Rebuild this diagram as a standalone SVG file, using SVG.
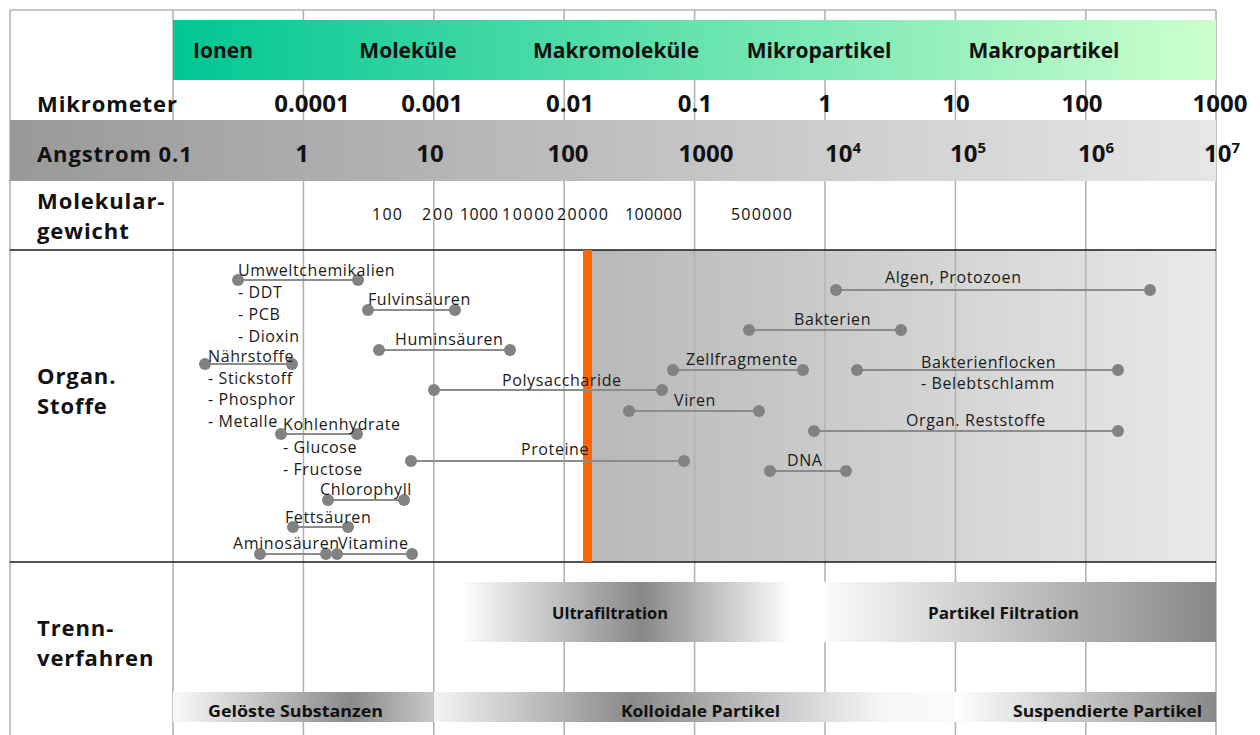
<svg xmlns="http://www.w3.org/2000/svg" width="1260" height="735" viewBox="0 0 1260 735">
<defs>
<linearGradient id="gGreen" x1="0" y1="0" x2="1" y2="0"><stop offset="0" stop-color="#00c693"/><stop offset="1" stop-color="#ccffcc"/></linearGradient>
<linearGradient id="gAng" x1="0" y1="0" x2="1" y2="0"><stop offset="0" stop-color="#999999"/><stop offset="1" stop-color="#e6e6e6"/></linearGradient>
<linearGradient id="gOrg" x1="0" y1="0" x2="1" y2="0"><stop offset="0" stop-color="#b8b8b8"/><stop offset="1" stop-color="#e9e9e9"/></linearGradient>
<linearGradient id="gUF" x1="0" y1="0" x2="1" y2="0"><stop offset="0" stop-color="#ffffff"/><stop offset="0.5" stop-color="#888888"/><stop offset="0.91" stop-color="#ffffff"/><stop offset="1" stop-color="#ffffff"/></linearGradient>
<linearGradient id="gPF" x1="0" y1="0" x2="1" y2="0"><stop offset="0" stop-color="#fafafa"/><stop offset="1" stop-color="#878787"/></linearGradient>
<linearGradient id="gGS" x1="0" y1="0" x2="1" y2="0"><stop offset="0" stop-color="#fafafa"/><stop offset="0.68" stop-color="#8a8a8a"/><stop offset="1" stop-color="#c8c8c8"/></linearGradient>
<linearGradient id="gKP" x1="0" y1="0" x2="1" y2="0"><stop offset="0" stop-color="#f4f4f4"/><stop offset="0.38" stop-color="#8a8a8a"/><stop offset="0.86" stop-color="#f6f6f6"/><stop offset="1" stop-color="#fbfbfb"/></linearGradient>
<linearGradient id="gSP" x1="0" y1="0" x2="1" y2="0"><stop offset="0" stop-color="#ffffff"/><stop offset="1" stop-color="#888888"/></linearGradient>
<style>
text{font-family:"Open Sans","Liberation Sans",sans-serif;fill:#111}
.h{font-weight:700;font-size:22px;letter-spacing:0.9px}
.g{font-weight:700;font-size:21px;text-anchor:middle}
.v{font-weight:700;font-size:24px}
.mw{font-size:16px}
.lb{font-size:16px;letter-spacing:0.6px;fill:#1a1a1a}
.tb{font-weight:700;font-size:16px}
.grid{stroke:#b4b4b4;stroke-width:1.6;fill:none}
.hl{stroke:#1a1a1a;stroke-width:1.6}
.rng{stroke:#8c8c8c;stroke-width:2}
.dot{fill:#828282}
</style>
</defs>
<rect width="1260" height="735" fill="#ffffff"/>

<g id="background">
<rect x="592" y="250" width="624" height="312" fill="url(#gOrg)"/>
</g>

<g id="grid">
<line class="grid" x1="10" y1="10" x2="1216" y2="10"/>
<line class="grid" x1="10" y1="10" x2="10" y2="735"/>
<line class="grid" x1="173" y1="10" x2="173" y2="735"/>
<line class="grid" x1="303.4" y1="10" x2="303.4" y2="735"/>
<line class="grid" x1="433.8" y1="10" x2="433.8" y2="735"/>
<line class="grid" x1="564.2" y1="10" x2="564.2" y2="735"/>
<line class="grid" x1="694.6" y1="10" x2="694.6" y2="735"/>
<line class="grid" x1="825" y1="10" x2="825" y2="735"/>
<line class="grid" x1="955.4" y1="10" x2="955.4" y2="735"/>
<line class="grid" x1="1085.8" y1="10" x2="1085.8" y2="735"/>
<line class="grid" x1="1216" y1="10" x2="1216" y2="735" stroke-width="2.5"/>
<line class="hl" x1="10" y1="250" x2="1216" y2="250"/>
<line class="hl" x1="10" y1="562" x2="1216" y2="562"/>
</g>

<g id="bands">
<rect x="173" y="20" width="1043" height="60" fill="url(#gGreen)"/>
<rect x="10" y="120" width="1206" height="61" fill="url(#gAng)"/>
<rect x="460" y="582" width="365" height="60" fill="url(#gUF)"/>
<rect x="825" y="582" width="391" height="60" fill="url(#gPF)"/>
<rect x="173" y="692" width="261" height="30" fill="url(#gGS)"/>
<rect x="434" y="692" width="521" height="30" fill="url(#gKP)"/>
<rect x="955" y="692" width="261" height="30" fill="url(#gSP)"/>
<rect x="583" y="250" width="9" height="312" fill="#ff6600"/>
</g>

<g id="headers">
<text class="g" x="223" y="58">Ionen</text>
<text class="g" x="408" y="58">Moleküle</text>
<text class="g" x="616" y="58">Makromoleküle</text>
<text class="g" x="819" y="58">Mikropartikel</text>
<text class="g" x="1044" y="58">Makropartikel</text>

<text class="h" x="37" y="112">Mikrometer</text>
<text class="h" x="37" y="162">Angstrom 0.1</text>
<text class="h" x="37" y="209">Molekular-</text>
<text class="h" x="37" y="239">gewicht</text>
<text class="h" x="37" y="384">Organ.</text>
<text class="h" x="37" y="414">Stoffe</text>
<text class="h" x="37" y="636">Trenn-</text>
<text class="h" x="37" y="666">verfahren</text>
</g>

<g id="scale-mikrometer" text-anchor="middle">
<text class="v" x="312" y="112">0.0001</text>
<text class="v" x="432" y="112">0.001</text>
<text class="v" x="570" y="112">0.01</text>
<text class="v" x="695" y="112">0.1</text>
<text class="v" x="825" y="112">1</text>
<text class="v" x="956" y="112">10</text>
<text class="v" x="1082" y="112">100</text>
<text class="v" x="1220" y="112">1000</text>
</g>

<g id="scale-angstrom" text-anchor="middle">
<text class="v" x="302" y="162">1</text>
<text class="v" x="430" y="162">10</text>
<text class="v" x="568" y="162">100</text>
<text class="v" x="706" y="162">1000</text>
<text class="v" x="843" y="162">10<tspan font-size="15" dy="-9">4</tspan></text>
<text class="v" x="968" y="162">10<tspan font-size="15" dy="-9">5</tspan></text>
<text class="v" x="1096" y="162">10<tspan font-size="15" dy="-9">6</tspan></text>
<text class="v" x="1222" y="162">10<tspan font-size="15" dy="-9">7</tspan></text>
</g>

<g id="scale-molekulargewicht">
<text class="mw" x="372" y="220" textLength="30">100</text>
<text class="mw" x="422" y="220" textLength="31">200</text>
<text class="mw" x="460" y="220" textLength="38">1000</text>
<text class="mw" x="502" y="220" textLength="52">10000</text>
<text class="mw" x="557" y="220" textLength="51">20000</text>
<text class="mw" x="625" y="220" textLength="57">100000</text>
<text class="mw" x="731" y="220" textLength="61">500000</text>
</g>

<g id="trennverfahren">
<text class="tb" x="552" y="619" textLength="116" lengthAdjust="spacingAndGlyphs">Ultrafiltration</text>
<text class="tb" x="928" y="619" textLength="151" lengthAdjust="spacingAndGlyphs">Partikel Filtration</text>
<text class="tb" x="208" y="717" textLength="175" lengthAdjust="spacingAndGlyphs">Gelöste Substanzen</text>
<text class="tb" x="621" y="717" textLength="159" lengthAdjust="spacingAndGlyphs">Kolloidale Partikel</text>
<text class="tb" x="1013" y="717" textLength="189" lengthAdjust="spacingAndGlyphs">Suspendierte Partikel</text>
</g>

<g id="n-umweltchemikalien">
<line class="rng" x1="238" y1="280" x2="358" y2="280"/>
<circle class="dot" cx="238" cy="280" r="6"/><circle class="dot" cx="358" cy="280" r="6"/>
<text class="lb" x="238" y="276">Umweltchemikalien</text>
<text class="lb" x="238" y="298">- DDT</text>
<text class="lb" x="238" y="320">- PCB</text>
<text class="lb" x="238" y="342">- Dioxin</text>
</g>
<g id="n-fulvinsaeuren">
<line class="rng" x1="368" y1="310" x2="455" y2="310"/>
<circle class="dot" cx="368" cy="310" r="6"/><circle class="dot" cx="455" cy="310" r="6"/>
<text class="lb" x="368" y="305">Fulvinsäuren</text>
</g>
<g id="n-huminsaeuren">
<line class="rng" x1="379" y1="350" x2="510" y2="350"/>
<circle class="dot" cx="379" cy="350" r="6"/><circle class="dot" cx="510" cy="350" r="6"/>
<text class="lb" x="395" y="345">Huminsäuren</text>
</g>
<g id="n-naehrstoffe">
<line class="rng" x1="205" y1="364" x2="292" y2="364"/>
<circle class="dot" cx="205" cy="364" r="6"/><circle class="dot" cx="292" cy="364" r="6"/>
<text class="lb" x="208" y="362">Nährstoffe</text>
<text class="lb" x="208" y="384">- Stickstoff</text>
<text class="lb" x="208" y="405">- Phosphor</text>
<text class="lb" x="208" y="427">- Metalle</text>
</g>
<g id="n-kohlenhydrate">
<line class="rng" x1="281" y1="434" x2="357" y2="434"/>
<circle class="dot" cx="281" cy="434" r="6"/><circle class="dot" cx="357" cy="434" r="6"/>
<text class="lb" x="283" y="430">Kohlenhydrate</text>
<text class="lb" x="283" y="453">- Glucose</text>
<text class="lb" x="283" y="475">- Fructose</text>
</g>
<g id="n-chlorophyll">
<line class="rng" x1="328" y1="500" x2="404" y2="500"/>
<circle class="dot" cx="328" cy="500" r="6"/><circle class="dot" cx="404" cy="500" r="6"/>
<text class="lb" x="320" y="495">Chlorophyll</text>
</g>
<g id="n-fettsaeuren">
<line class="rng" x1="293" y1="527" x2="348" y2="527"/>
<circle class="dot" cx="293" cy="527" r="6"/><circle class="dot" cx="348" cy="527" r="6"/>
<text class="lb" x="285" y="523">Fettsäuren</text>
</g>
<g id="n-aminosaeuren">
<line class="rng" x1="260" y1="554" x2="326" y2="554"/>
<circle class="dot" cx="260" cy="554" r="6"/><circle class="dot" cx="326" cy="554" r="6"/>
<text class="lb" x="233" y="549">Aminosäuren</text>
</g>
<g id="n-vitamine">
<line class="rng" x1="337" y1="554" x2="412" y2="554"/>
<circle class="dot" cx="337" cy="554" r="6"/><circle class="dot" cx="412" cy="554" r="6"/>
<text class="lb" x="338" y="549">Vitamine</text>
</g>
<g id="n-polysaccharide">
<line class="rng" x1="434" y1="390" x2="662" y2="390"/>
<circle class="dot" cx="434" cy="390" r="6"/><circle class="dot" cx="662" cy="390" r="6"/>
<text class="lb" x="502" y="386">Polysaccharide</text>
</g>
<g id="n-proteine">
<line class="rng" x1="411" y1="461" x2="684" y2="461"/>
<circle class="dot" cx="411" cy="461" r="6"/><circle class="dot" cx="684" cy="461" r="6"/>
<text class="lb" x="521" y="455">Proteine</text>
</g>
<g id="n-zellfragmente">
<line class="rng" x1="673" y1="370" x2="803" y2="370"/>
<circle class="dot" cx="673" cy="370" r="6"/><circle class="dot" cx="803" cy="370" r="6"/>
<text class="lb" x="686" y="365">Zellfragmente</text>
</g>
<g id="n-viren">
<line class="rng" x1="629" y1="411" x2="759" y2="411"/>
<circle class="dot" cx="629" cy="411" r="6"/><circle class="dot" cx="759" cy="411" r="6"/>
<text class="lb" x="674" y="406">Viren</text>
</g>
<g id="n-bakterien">
<line class="rng" x1="749" y1="330" x2="901" y2="330"/>
<circle class="dot" cx="749" cy="330" r="6"/><circle class="dot" cx="901" cy="330" r="6"/>
<text class="lb" x="794" y="325">Bakterien</text>
</g>
<g id="n-algen-protozoen">
<line class="rng" x1="836" y1="290" x2="1150" y2="290"/>
<circle class="dot" cx="836" cy="290" r="6"/><circle class="dot" cx="1150" cy="290" r="6"/>
<text class="lb" x="885" y="283">Algen, Protozoen</text>
</g>
<g id="n-bakterienflocken">
<line class="rng" x1="857" y1="370" x2="1118" y2="370"/>
<circle class="dot" cx="857" cy="370" r="6"/><circle class="dot" cx="1118" cy="370" r="6"/>
<text class="lb" x="921" y="368">Bakterienflocken</text>
<text class="lb" x="921" y="389">- Belebtschlamm</text>
</g>
<g id="n-organ-reststoffe">
<line class="rng" x1="814" y1="431" x2="1118" y2="431"/>
<circle class="dot" cx="814" cy="431" r="6"/><circle class="dot" cx="1118" cy="431" r="6"/>
<text class="lb" x="906" y="426">Organ. Reststoffe</text>
</g>
<g id="n-dna">
<line class="rng" x1="770" y1="471" x2="846" y2="471"/>
<circle class="dot" cx="770" cy="471" r="6"/><circle class="dot" cx="846" cy="471" r="6"/>
<text class="lb" x="787" y="466">DNA</text>
</g>
</svg>
